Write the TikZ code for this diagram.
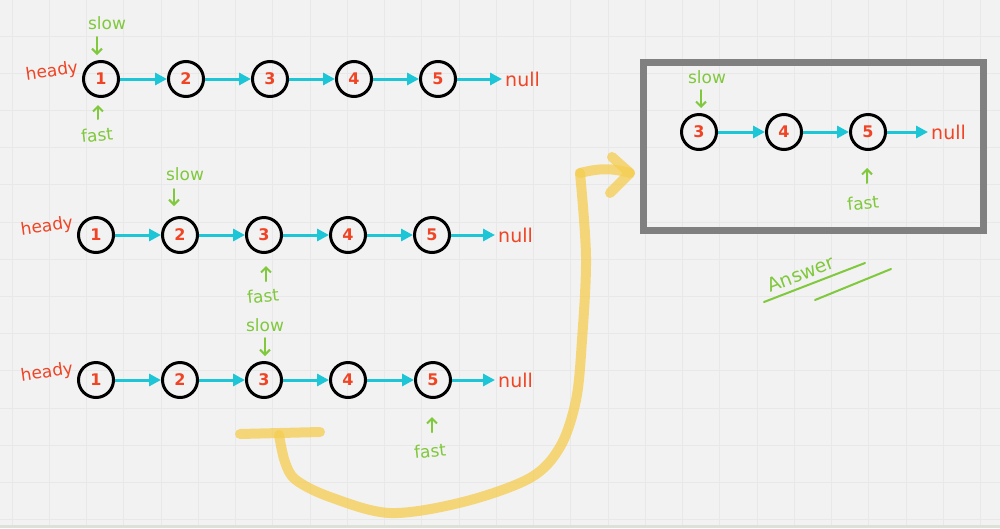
\documentclass[tikz,border=0pt]{standalone}
\usepackage{fontspec}
\setmainfont{DejaVu Sans}
\usetikzlibrary{arrows.meta}
\definecolor{bgcol}{RGB}{242,242,242}
\definecolor{gridcol}{RGB}{232,232,232}
\definecolor{barcol}{RGB}{221,226,216}
\definecolor{numred}{RGB}{240,68,36}
\definecolor{linkcyan}{RGB}{28,198,214}
\definecolor{ptrgreen}{RGB}{128,200,60}
\definecolor{boxgray}{RGB}{128,128,128}
\definecolor{penyellow}{RGB}{245,205,80}
\tikzset{
  lnode/.style={circle, draw=black, line width=3pt, minimum size=35pt, inner sep=0pt,
    text=numred, font=\fontsize{16}{18}\selectfont\bfseries},
  link/.style={draw=linkcyan, line width=3pt, -{Triangle[length=12pt,width=12pt]}},
  nulltxt/.style={anchor=west, inner sep=3pt, text=numred, font=\fontsize{19}{22}\selectfont},
  headtxt/.style={text=numred, font=\fontsize{17}{20}\selectfont, rotate=8, inner sep=1pt},
  ptrtxt/.style={text=ptrgreen, font=\fontsize{17}{20}\selectfont, inner sep=1pt},
  ptr/.style={draw=ptrgreen, line width=2pt, line cap=round, -{Straight Barb[length=5pt,width=10pt,line width=2pt]}},
  gridline/.style={draw=gridcol, line width=0.8pt},
  pen/.style={draw=penyellow, draw opacity=0.75, line width=10pt, line cap=round, line join=round},
  ansline/.style={draw=ptrgreen, line width=2pt, line cap=round}
}
\begin{document}
\begin{tikzpicture}[x=1pt,y=-1pt]
\useasboundingbox (0,0) rectangle (1000,528);
\fill[bgcol] (0,0) rectangle (1000,528);
\foreach \i in {0,...,26} \draw[gridline] ({12+37.25*\i},0) -- ({12+37.25*\i},525);
\foreach \j in {0,...,13} \draw[gridline] (0,{36+37.2*\j}) -- (1000,{36+37.2*\j});
\fill[barcol] (0,525) rectangle (1000,528);

% ---------- row 1 ----------
\foreach \n/\x in {1/101,2/186,3/270,4/354,5/438} \node[lnode] (r1n\n) at (\x,79) {\n};
\node[nulltxt] (r1null) at (502,79) {null};
\foreach \a/\b in {1/2,2/3,3/4,4/5} \draw[link] (r1n\a) -- (r1n\b);
\draw[link] (r1n5) -- (r1null);
\node[headtxt] (r1head) at (52,72) {heady};
\node[ptrtxt] (r1slow) at (107,23) {slow};
\node[ptrtxt, rotate=6] (r1fast) at (97,135) {fast};
\coordinate (r1sa) at (97,37);
\coordinate (r1fa) at (98,119);
\draw[ptr, shorten >=5pt] (r1sa) -- (r1sa |- r1n1.north);
\draw[ptr, shorten >=7pt] (r1fa) -- (r1fa |- r1n1.south);

% ---------- row 2 ----------
\foreach \n/\x in {1/96,2/180,3/264,4/348,5/432} \node[lnode] (r2n\n) at (\x,235) {\n};
\node[nulltxt] (r2null) at (495,235) {null};
\foreach \a/\b in {1/2,2/3,3/4,4/5} \draw[link] (r2n\a) -- (r2n\b);
\draw[link] (r2n5) -- (r2null);
\node[headtxt] (r2head) at (47,227) {heady};
\node[ptrtxt] (r2slow) at (185,174) {slow};
\node[ptrtxt, rotate=6] (r2fast) at (263,296) {fast};
\coordinate (r2sa) at (174,189);
\coordinate (r2fa) at (266,281);
\draw[ptr, shorten >=10pt] (r2sa) -- (r2sa |- r2n2.north);
\draw[ptr, shorten >=12pt] (r2fa) -- (r2fa |- r2n3.south);

% ---------- row 3 ----------
\foreach \n/\x in {1/96,2/180,3/264,4/348,5/433} \node[lnode] (r3n\n) at (\x,380) {\n};
\node[nulltxt] (r3null) at (495,380) {null};
\foreach \a/\b in {1/2,2/3,3/4,4/5} \draw[link] (r3n\a) -- (r3n\b);
\draw[link] (r3n5) -- (r3null);
\node[headtxt] (r3head) at (47,373) {heady};
\node[ptrtxt] (r3slow) at (265,325) {slow};
\node[ptrtxt, rotate=6] (r3fast) at (430,451) {fast};
\coordinate (r3sa) at (265,338);
\coordinate (r3fa) at (432,432);
\draw[ptr, shorten >=5pt] (r3sa) -- (r3sa |- r3n3.north);
\draw[ptr, shorten >=18pt] (r3fa) -- (r3fa |- r3n5.south);

% ---------- answer box ----------
\draw[boxgray, line width=7pt] (643,62) rectangle (983,230);
\foreach \n/\x in {3/699,4/784,5/868} \node[lnode] (b\n) at (\x,132) {\n};
\node[nulltxt] (bnull) at (928,132) {null};
\draw[link] (b3) -- (b4);
\draw[link] (b4) -- (b5);
\draw[link] (b5) -- (bnull);
\node[ptrtxt] (bslow) at (707,77) {slow};
\node[ptrtxt, rotate=6] (bfast) at (863,203) {fast};
\coordinate (bsa) at (701,90);
\coordinate (bfa) at (867,183);
\draw[ptr, shorten >=5pt] (bsa) -- (bsa |- b3.north);
\draw[ptr, shorten >=17pt] (bfa) -- (bfa |- b5.south);

% ---------- Answer note ----------
\node[text=ptrgreen, font=\fontsize{19}{22}\selectfont, rotate=21, inner sep=0pt] (ans) at (801,274) {Answer};
\draw[ansline] (764,302) -- (865,263);
\draw[ansline] (815,300) -- (891,269);

% ---------- yellow freehand arrow ----------
\draw[pen] (240,434) -- (320,432);
\draw[pen] plot[smooth, tension=0.55] coordinates {(279,435) (285,462) (296,480) (330,497) (390,513) (463,502) (530,478) (560,447) (576,400) (582,340) (586,257) (580,173)};
\coordinate (arrtip) at (630,173);
\draw[pen] (580,173) .. controls (600,168) and (612,168) .. (arrtip);
\draw[pen] (612,157) -- (arrtip) -- (610,193);
\end{tikzpicture}
\end{document}
